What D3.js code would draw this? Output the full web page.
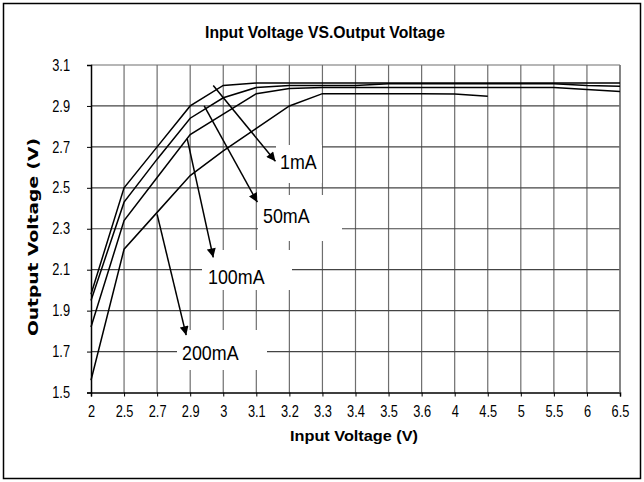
<!DOCTYPE html>
<html>
<head>
<meta charset="utf-8">
<script src="https://cdn.jsdelivr.net/npm/d3@7"></script>
<style>
  body { margin: 0; background: #fff; }
  svg { display: block; }
  text { font-family: "Liberation Sans", Arial, sans-serif; fill: #000; }
  .bold { font-weight: bold; }
</style>
</head>
<body>
<svg id="chart"></svg>
<script>
// input voltage categories (drawn evenly spaced, like the source)
const inputV = ['2', '2.5', '2.7', '2.9', '3', '3.1', '3.2', '3.3', '3.4', '3.5', '3.6', '4', '4.5', '5', '5.5', '6', '6.5'];
const yTicks = [1.5, 1.7, 1.9, 2.1, 2.3, 2.5, 2.7, 2.9, 3.1];

// output voltage per load current
const out1mA   = [1.98, 2.50, 2.70, 2.90, 3.00, 3.012, 3.012, 3.012, 3.012, 3.012, 3.012, 3.012, 3.012, 3.012, 3.012, 3.012, 3.012];
const out50mA  = [1.95, 2.43, 2.64, 2.84, 2.94, 2.99, 3.00, 3.00, 3.00, 3.008, 3.008, 3.008, 3.008, 3.008, 3.008, 3.00, 2.996];
const out100mA = [1.82, 2.34, 2.55, 2.76, 2.86, 2.96, 2.985, 2.99, 2.99, 2.99, 2.99, 2.99, 2.99, 2.99, 2.99, 2.98, 2.97];
const out200mA = [1.56, 2.20, 2.38, 2.56, 2.68, 2.79, 2.90, 2.96, 2.96, 2.96, 2.96, 2.958, 2.947];

const loads = ['1mA', '50mA', '100mA', '200mA'];
const series = [out1mA, out50mA, out100mA, out200mA];

// arrow ends, in (category, voltage) terms
const arrowFrom = [['3', 3.0], ['2.9', 2.9], ['2.9', 2.74], ['2.7', 2.37]];
const arrowTo   = [['3.3', 2.63], ['3.1', 2.43], ['3', 2.16], ['2.9', 1.78]];

const W = 644, H = 482;
const svg = d3.select('#chart').attr('width', W).attr('height', H);

const x = d3.scalePoint().domain(inputV).range([91, 620]);
const y = d3.scaleLinear().domain([1.5, 3.1]).range([392.5, 65]);

// squeeze text horizontally (source font is a narrow face)
function squeeze(sel, k) {
  sel.each(function () {
    const L = this.getComputedTextLength();
    d3.select(this).attr('textLength', L * k).attr('lengthAdjust', 'spacingAndGlyphs');
  });
}

// outer frame
svg.append('rect')
  .attr('x', 3.5).attr('y', 3.5).attr('width', 637).attr('height', 475)
  .attr('fill', 'none').attr('stroke', '#000').attr('stroke-width', 1.5);

// title
svg.append('text').attr('class', 'bold')
  .attr('x', 325).attr('y', 38)
  .attr('text-anchor', 'middle')
  .attr('textLength', 240).attr('lengthAdjust', 'spacingAndGlyphs')
  .style('font-size', '16px')
  .text('Input Voltage VS.Output Voltage');

// grid
svg.append('g')
  .selectAll('line')
  .data(inputV.slice(1))
  .join('line')
  .attr('x1', d => x(d)).attr('x2', d => x(d))
  .attr('y1', y(3.1)).attr('y2', y(1.5))
  .attr('stroke', '#6e6e6e').attr('stroke-width', 1.2);

svg.append('g')
  .selectAll('line')
  .data(yTicks.slice(1))
  .join('line')
  .attr('x1', x('2')).attr('x2', x('6.5'))
  .attr('y1', d => y(d)).attr('y2', d => y(d))
  .attr('stroke', d => d === 3.1 ? '#6e6e6e' : '#444').attr('stroke-width', 1.2);

// axes
const xAxis = svg.append('g')
  .attr('transform', `translate(0,${y(1.5)})`)
  .call(d3.axisBottom(x).tickSize(4).tickPadding(9));
const yAxis = svg.append('g')
  .attr('transform', `translate(${x('2')},0)`)
  .call(d3.axisLeft(y).tickValues(yTicks).tickFormat(d3.format('.1f')).tickSize(4).tickPadding(17));

[xAxis, yAxis].forEach(g => {
  g.select('.domain').attr('stroke', '#000').attr('stroke-width', 1.5);
  g.selectAll('.tick line').attr('stroke', '#000');
  g.selectAll('.tick text')
    .style('font-size', '16px')
    .style('font-family', '"Liberation Sans", Arial, sans-serif')
    .call(squeeze, 0.8);
});

// right frame of plot
svg.append('line')
  .attr('x1', x('6.5')).attr('x2', x('6.5'))
  .attr('y1', y(3.1)).attr('y2', y(1.5))
  .attr('stroke', '#7a7a7a').attr('stroke-width', 1.5);

// axis titles
svg.append('text').attr('class', 'bold')
  .attr('x', 354).attr('y', 441)
  .attr('text-anchor', 'middle')
  .attr('textLength', 128).attr('lengthAdjust', 'spacingAndGlyphs')
  .style('font-size', '14px')
  .text('Input Voltage (V)');

svg.append('text').attr('class', 'bold')
  .attr('transform', 'translate(38,237) rotate(-90)')
  .attr('text-anchor', 'middle')
  .attr('textLength', 198).attr('lengthAdjust', 'spacingAndGlyphs')
  .style('font-family', '"DejaVu Sans", Verdana, sans-serif')
  .style('font-size', '14px')
  .text('Output Voltage (V)');

// white label boxes (they hide the grid behind them)
const boxes = [
  { x: 276, y: 145, w: 46, h: 38, tx: 280, ty: 169 },
  { x: 258, y: 195, w: 84, h: 46, tx: 263, ty: 223 },
  { x: 202, y: 250, w: 90, h: 40, tx: 208, ty: 284 },
  { x: 177, y: 330, w: 90, h: 40, tx: 182, ty: 360 }
];
svg.append('g')
  .selectAll('rect')
  .data(boxes)
  .join('rect')
  .attr('x', d => d.x).attr('y', d => d.y)
  .attr('width', d => d.w).attr('height', d => d.h)
  .attr('fill', '#fff');

// curves
const line = d3.line()
  .x((d, i) => x(inputV[i]))
  .y(d => y(d));

svg.append('g')
  .selectAll('path')
  .data(series)
  .join('path')
  .attr('d', line)
  .attr('fill', 'none')
  .attr('stroke', '#000')
  .attr('stroke-width', 1.5);

// arrows
svg.append('defs').append('marker')
  .attr('id', 'head')
  .attr('viewBox', '0 0 10 10')
  .attr('refX', 10).attr('refY', 5)
  .attr('markerWidth', 10).attr('markerHeight', 9)
  .attr('markerUnits', 'userSpaceOnUse')
  .attr('orient', 'auto')
  .append('path')
  .attr('d', 'M0,0 L10,5 L0,10 z')
  .attr('fill', '#000');

svg.append('g')
  .selectAll('line')
  .data(loads)
  .join('line')
  .attr('x1', (d, i) => x(arrowFrom[i][0]) + [-10, 14, -3, 0][i])
  .attr('y1', (d, i) => y(arrowFrom[i][1]))
  .attr('x2', (d, i) => x(arrowTo[i][0]) + [-47, 1, -10, -4][i])
  .attr('y2', (d, i) => y(arrowTo[i][1]))
  .attr('stroke', '#000')
  .attr('stroke-width', 1.5)
  .attr('marker-end', 'url(#head)');

// load labels
svg.append('g')
  .selectAll('text')
  .data(loads)
  .join('text')
  .attr('x', (d, i) => boxes[i].tx)
  .attr('y', (d, i) => boxes[i].ty)
  .style('font-size', '21px')
  .text(d => d)
  .call(squeeze, 0.85);
</script>
</body>
</html>
